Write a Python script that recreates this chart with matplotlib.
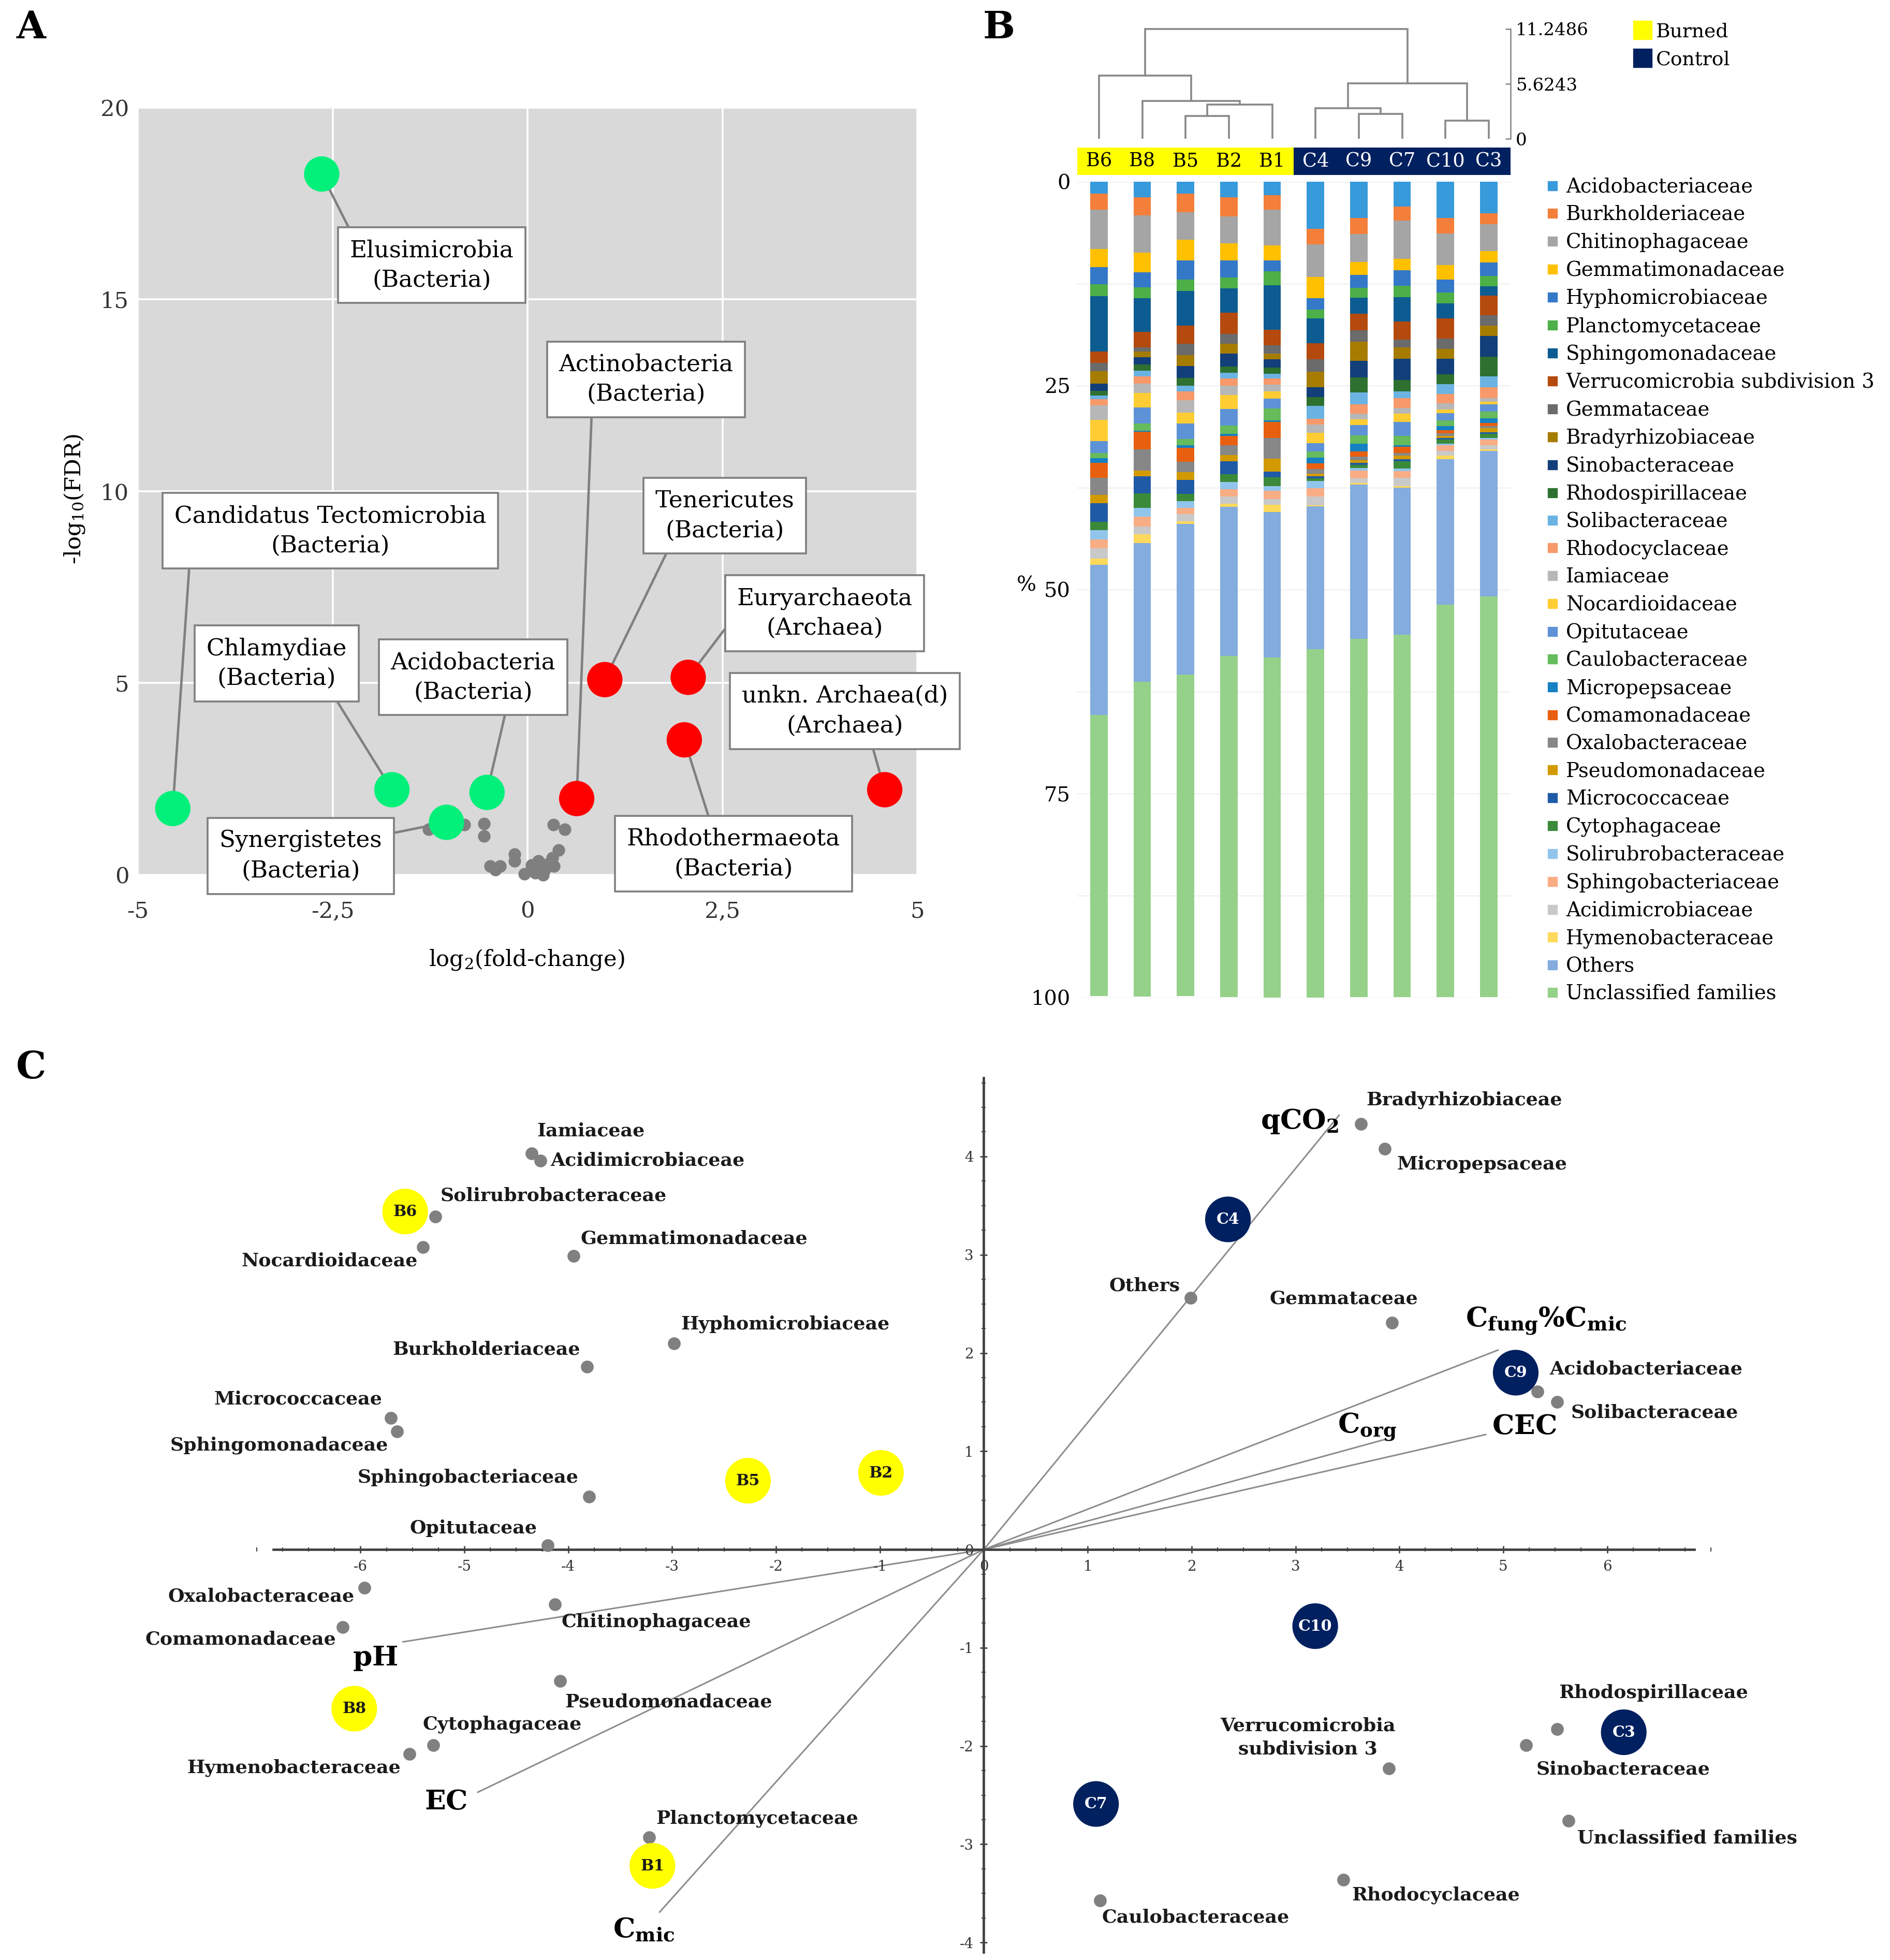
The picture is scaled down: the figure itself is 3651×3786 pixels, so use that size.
import numpy as np
import matplotlib
matplotlib.use('Agg')
import matplotlib.pyplot as plt
from matplotlib.lines import Line2D
from matplotlib.ticker import MultipleLocator, FixedLocator

plt.rcParams['font.family'] = ['DejaVu Serif']
plt.rcParams['mathtext.fontset'] = 'dejavuserif'
plt.rcParams['axes.unicode_minus'] = False

# ---------------- panel A data (volcano) ----------------
phyla = ['Elusimicrobia\n(Bacteria)', 'Actinobacteria\n(Bacteria)',
         'Candidatus Tectomicrobia\n(Bacteria)', 'Tenericutes\n(Bacteria)',
         'Euryarchaeota\n(Archaea)', 'Chlamydiae\n(Bacteria)',
         'Acidobacteria\n(Bacteria)', 'unkn. Archaea(d)\n(Archaea)',
         'Synergistetes\n(Bacteria)', 'Rhodothermaeota\n(Bacteria)']
phyla_lfc = [-2.64, 0.63, -4.55, 0.99, 2.06, -1.74, -0.52, 4.58, -1.04, 2.01]
phyla_fdr = [18.27, 1.99, 1.73, 5.09, 5.15, 2.22, 2.15, 2.22, 1.37, 3.52]
other_lfc = [-1.27, -0.81, -0.56, -0.56, -0.17, -0.17, -0.48, -0.35, -0.41, -0.04, 0.05,
             0.14, 0.22, 0.20, 0.32, 0.40, 0.34, 0.33, 0.48, 0.05, 0.10, 0.27]
other_fdr = [1.19, 1.31, 1.33, 1.01, 0.54, 0.37, 0.23, 0.23, 0.14, 0.03, 0.14,
             0.37, 0.14, 0.00, 0.45, 0.64, 0.23, 1.31, 1.18, 0.25, 0.05, 0.30]

# ---------------- panel B data (relative abundance, %) ----------------
samples = ['B6', 'B8', 'B5', 'B2', 'B1', 'C4', 'C9', 'C7', 'C10', 'C3']
families = ['Acidobacteriaceae', 'Burkholderiaceae', 'Chitinophagaceae', 'Gemmatimonadaceae',
            'Hyphomicrobiaceae', 'Planctomycetaceae', 'Sphingomonadaceae',
            'Verrucomicrobia subdivision 3', 'Gemmataceae', 'Bradyrhizobiaceae',
            'Sinobacteraceae', 'Rhodospirillaceae', 'Solibacteraceae', 'Rhodocyclaceae',
            'Iamiaceae', 'Nocardioidaceae', 'Opitutaceae', 'Caulobacteraceae',
            'Micropepsaceae', 'Comamonadaceae', 'Oxalobacteraceae', 'Pseudomonadaceae',
            'Micrococcaceae', 'Cytophagaceae', 'Solirubrobacteraceae',
            'Sphingobacteriaceae', 'Acidimicrobiaceae', 'Hymenobacteraceae', 'Others',
            'Unclassified families']
fam_colors = ['#379ADB', '#F47F3A', '#A5A5A5', '#FFC000', '#3478C8', '#4CAF48', '#0D5C91',
              '#B54A0E', '#6B6B6B', '#A67C00', '#123F7A', '#2E7030', '#6BB3E3', '#F7996A',
              '#B7B7B7', '#FFCD33', '#5D93D6', '#66BB5C', '#1580C2', '#E8600F', '#878787',
              '#D39A00', '#1F5AA6', '#3A8A3A', '#92C5EB', '#F9AD85', '#C9C9C9', '#FFD95C',
              '#84ACDE', '#96D18A']
ab_B6 = [1.5, 1.95, 4.85, 2.2, 2.1, 1.45, 6.8, 1.4, 1.0, 1.5, 0.9, 0.55, 0.45, 0.8, 1.75,
         2.6, 1.5, 0.6, 0.6, 1.8, 2.1, 1.05, 2.25, 1.05, 1.1, 1.1, 1.25, 0.75, 18.4, 34.5]
ab_B8 = [1.95, 2.2, 4.6, 2.4, 1.8, 1.35, 4.1, 1.9, 0.55, 0.7, 0.85, 0.8, 0.7, 0.9, 1.1,
         1.8, 1.95, 0.9, 0.1, 2.2, 2.6, 0.7, 2.05, 1.8, 1.1, 1.2, 0.9, 1.1, 17.0, 38.6]
ab_B5 = [1.5, 2.25, 3.4, 2.5, 2.35, 1.4, 4.25, 2.25, 1.35, 1.35, 1.5, 0.9, 0.75, 1.05, 1.5,
         1.35, 1.9, 0.8, 0.3, 1.7, 1.25, 1.0, 1.7, 0.9, 0.8, 0.75, 0.9, 0.3, 18.5, 39.4]
ab_B2 = [1.95, 2.35, 3.3, 2.05, 2.1, 1.35, 3.0, 2.6, 1.2, 1.2, 1.55, 0.8, 0.7, 0.9, 1.1,
         1.7, 2.05, 1.05, 0.2, 1.15, 1.2, 0.8, 1.6, 0.9, 0.9, 0.9, 0.9, 0.35, 18.3, 41.8]
ab_B1 = [1.65, 1.8, 4.4, 1.8, 1.35, 1.7, 5.45, 1.95, 1.0, 0.7, 1.0, 0.75, 0.6, 0.75, 0.8,
         0.9, 1.2, 1.5, 0.15, 2.0, 2.55, 1.55, 0.7, 1.05, 0.6, 1.0, 0.7, 0.9, 17.8, 41.8]
ab_C4 = [5.8, 1.9, 4.0, 2.6, 1.4, 1.1, 3.0, 2.0, 1.5, 1.9, 1.2, 1.1, 1.6, 0.7, 1.0,
         1.25, 1.0, 0.8, 0.7, 0.7, 0.55, 0.35, 0.25, 0.3, 0.9, 1.0, 1.05, 0.15, 17.5, 42.8]
ab_C9 = [4.5, 1.95, 3.4, 1.6, 1.6, 1.2, 1.95, 2.05, 1.35, 2.35, 2.05, 1.85, 1.45, 1.15, 0.7,
         0.7, 1.25, 1.0, 1.0, 0.6, 0.45, 0.3, 0.25, 0.4, 0.35, 0.9, 0.6, 0.2, 18.9, 43.9]
ab_C7 = [3.1, 1.7, 4.65, 1.45, 1.85, 1.45, 2.95, 2.2, 1.0, 1.35, 2.6, 1.45, 0.8, 1.2, 0.7,
         1.0, 1.7, 1.2, 0.15, 0.8, 0.3, 0.45, 0.25, 0.9, 0.3, 0.8, 1.05, 0.2, 18.0, 44.4]
ab_C10 = [4.45, 1.9, 3.9, 1.8, 1.55, 1.35, 1.8, 2.5, 1.25, 1.2, 1.95, 1.2, 1.2, 1.1, 0.8,
          0.45, 0.9, 0.7, 0.45, 0.4, 0.3, 0.3, 0.2, 0.45, 0.2, 0.7, 0.6, 0.45, 17.8, 48.1]
ab_C3 = [3.9, 1.35, 3.25, 1.45, 1.6, 1.3, 1.15, 2.4, 1.25, 1.3, 2.55, 2.35, 1.35, 1.35, 0.45,
         0.3, 0.9, 0.8, 0.6, 0.4, 0.25, 0.5, 0.2, 0.5, 0.2, 0.7, 0.5, 0.15, 17.85, 49.1]

# dendrogram merges: (left, right, height); 'mN' refers to merge N
merges = [('B5', 'B2', 2.37), ('m0', 'B1', 3.5), ('B8', 'm1', 3.87), ('B6', 'm2', 6.5),
          ('C9', 'C7', 2.58), ('C4', 'm4', 3.16), ('C10', 'C3', 1.85), ('m5', 'm6', 5.66),
          ('m3', 'm7', 11.2486)]
dendro_ticks = [0, 5.6243, 11.2486]

# ---------------- panel C data (ordination) ----------------
taxa = ['Iamiaceae', 'Acidimicrobiaceae', 'Solirubrobacteraceae', 'Nocardioidaceae',
        'Gemmatimonadaceae', 'Hyphomicrobiaceae', 'Burkholderiaceae', 'Micrococcaceae',
        'Sphingomonadaceae', 'Sphingobacteriaceae', 'Opitutaceae', 'Oxalobacteraceae',
        'Comamonadaceae', 'Chitinophagaceae', 'Pseudomonadaceae', 'Cytophagaceae',
        'Hymenobacteraceae', 'Planctomycetaceae', 'Bradyrhizobiaceae', 'Micropepsaceae',
        'Others', 'Gemmataceae', 'Acidobacteriaceae', 'Solibacteraceae',
        'Verrucomicrobia\nsubdivision 3', 'Rhodospirillaceae', 'Sinobacteraceae',
        'Unclassified families', 'Rhodocyclaceae', 'Caulobacteraceae']
taxa_x = [-4.35, -4.27, -5.28, -5.40, -3.95, -2.98, -3.82, -5.71, -5.65, -3.80, -4.20, -5.96,
          -6.17, -4.13, -4.08, -5.30, -5.53, -3.22, 3.63, 3.86, 1.99, 3.93, 5.33, 5.52,
          3.90, 5.52, 5.22, 5.63, 3.46, 1.12]
taxa_y = [4.03, 3.96, 3.39, 3.08, 2.99, 2.10, 1.86, 1.34, 1.20, 0.54, 0.04, -0.39,
          -0.79, -0.56, -1.34, -1.99, -2.08, -2.93, 4.33, 4.08, 2.56, 2.31, 1.61, 1.50,
          -2.23, -1.83, -1.99, -2.76, -3.36, -3.57]
site_names = ['B6', 'B5', 'B2', 'B8', 'B1', 'C4', 'C9', 'C10', 'C3', 'C7']
site_x = [-5.57, -2.27, -0.99, -6.06, -3.19, 2.35, 5.12, 3.19, 6.16, 1.08]
site_y = [3.44, 0.70, 0.78, -1.62, -3.22, 3.36, 1.80, -0.78, -1.86, -2.59]
env_names = [r'$\mathbf{qCO_2}$', r'$\mathbf{C_{fung}\%C_{mic}}$', r'$\mathbf{C_{org}}$',
             r'$\mathbf{CEC}$', r'$\mathbf{pH}$', r'$\mathbf{EC}$', r'$\mathbf{C_{mic}}$']
env_x = [3.42, 4.95, 3.86, 4.83, -5.59, -4.87, -3.12]
env_y = [4.42, 2.03, 1.12, 1.17, -0.94, -2.47, -3.69]

YELLOW = '#FFFF00'
NAVY = '#002060'

# ---------------- figure ----------------
W, H, DPI = 3651, 3786, 240
fig = plt.figure(figsize=(W / DPI, H / DPI), dpi=DPI)
PX, PY = 1510.0, 1566.0


def rect(x0, y0, x1, y1):
    # reference pixel box -> figure fraction
    return [x0 / PX, 1 - y1 / PY, (x1 - x0) / PX, (y1 - y0) / PY]


# ===================== A =====================
ax = fig.add_axes(rect(110, 86, 733, 699))
ax.set_facecolor('#D9D9D9')
ax.set_xlim(-5, 5)
ax.set_ylim(0, 20)
for s in ax.spines.values():
    s.set_visible(False)
ax.set_xticks([-5, -2.5, 0, 2.5, 5])
ax.set_xticklabels(['-5', '-2,5', '0', '2,5', '5'])
ax.set_yticks([0, 5, 10, 15, 20])
ax.tick_params(length=0, labelsize=13, labelcolor='#333333')
ax.tick_params(axis='x', pad=15)
ax.tick_params(axis='y', pad=5)
ax.grid(True, color='white', lw=1.1)
ax.set_axisbelow(True)
ax.set_xlabel(r'log$_2$(fold-change)', fontsize=13)
ax.set_ylabel(r'-log$_{10}$(FDR)', fontsize=13)
ax.xaxis.set_label_coords(0.499, -0.095)
ax.yaxis.set_label_coords(-0.066, 0.49)

ax.scatter(other_lfc, other_fdr, s=53, color='#7F7F7F', lw=0, zorder=3, clip_on=False)
pcol = ['#00F07A' if v < 0 else '#FF0000' for v in phyla_lfc]
ax.scatter(phyla_lfc, phyla_fdr, s=420, color=pcol, lw=0, zorder=4, clip_on=False)

# label boxes: centre (data) and line attachment relpos
box_pos = [(-1.23, 15.89), (1.52, 12.92), (-2.53, 8.97), (2.53, 9.36), (3.81, 6.82),
           (-3.22, 5.51), (-0.70, 5.15), (4.07, 4.27), (-2.91, 0.49), (2.64, 0.55)]
box_rel = [(0.03, 1), (0.19, 0), (0.05, 0), (0.12, 0), (0, 0.5),
           (0.88, 0), (0.71, 0), (0.62, 0), (1, 0.9), (0.4, 1)]
for name, x, y, (tx, ty), rp in zip(phyla, phyla_lfc, phyla_fdr, box_pos, box_rel):
    ax.annotate(name, xy=(x, y), xytext=(tx, ty), textcoords='data', ha='center',
                va='center', fontsize=13.6, linespacing=1.42, zorder=2,
                bbox=dict(boxstyle='square,pad=0.5', fc='white', ec='#808080', lw=1.1),
                arrowprops=dict(arrowstyle='-', color='#808080', lw=1.4, relpos=rp,
                                shrinkA=0, shrinkB=0))

# ===================== B =====================
abund = np.array([ab_B6, ab_B8, ab_B5, ab_B2, ab_B1, ab_C4, ab_C9, ab_C7, ab_C10, ab_C3])
xb = np.arange(len(samples))

axb = fig.add_axes(rect(860.7, 145, 1206.7, 797))
bottom = np.zeros(len(samples))
for j, fam in enumerate(families):
    axb.bar(xb, abund[:, j], bottom=bottom, width=0.4, color=fam_colors[j], label=fam,
            zorder=2)
    bottom += abund[:, j]
axb.set_xlim(-0.5, len(samples) - 0.5)
axb.set_ylim(100, 0)
for s in axb.spines.values():
    s.set_visible(False)
axb.set_xticks([])
axb.set_yticks([0, 25, 50, 75, 100])
axb.yaxis.set_minor_locator(MultipleLocator(12.5))
axb.grid(True, axis='y', which='both', color='#F2F2F2', lw=0.8)
axb.tick_params(axis='y', which='both', length=0, labelsize=12, pad=4)
fig.text(820 / PX, 1 - 468 / PY, '%', fontsize=12, ha='center', va='center')

fam_handles = [Line2D([], [], marker='s', ls='', color=c, markersize=5) for c in fam_colors]
axb.legend(fam_handles, families, loc='upper left',
           bbox_to_anchor=(1236 / PX, 1 - 142 / PY), bbox_transform=fig.transFigure,
           frameon=False, fontsize=11.6, borderpad=0, borderaxespad=0, handlelength=0.55,
           handletextpad=0.4, labelspacing=0.425)

# sample band
axs = fig.add_axes(rect(860.7, 118, 1206.7, 140))
axs.set_xlim(-0.5, len(samples) - 0.5)
axs.set_ylim(0, 1)
axs.axis('off')
nb = sum(1 for s in samples if s.startswith('B'))
axs.axvspan(-0.5, nb - 0.5, color=YELLOW, lw=0)
axs.axvspan(nb - 0.5, len(samples) - 0.5, color=NAVY, lw=0)
for i, s in enumerate(samples):
    axs.text(i, 0.5, s, ha='center', va='center', fontsize=11,
             color='black' if s.startswith('B') else 'white')

# dendrogram
axd = fig.add_axes(rect(860.7, 20, 1206.7, 111))
axd.set_xlim(-0.5, len(samples) - 0.5)
axd.set_ylim(0, 11.64)
pos = {s: (float(i), 0.0) for i, s in enumerate(samples)}
for k, (a, b, h) in enumerate(merges):
    xa, ha_ = pos[a]
    xb_, hb = pos[b]
    axd.plot([xa, xa, xb_, xb_], [ha_, h, h, hb], color='#8A8A8A', lw=1.1,
             solid_joinstyle='miter')
    pos['m%d' % k] = ((xa + xb_) / 2, h)
for s in ['top', 'left', 'bottom']:
    axd.spines[s].set_visible(False)
axd.spines['right'].set_color('#8A8A8A')
axd.spines['right'].set_bounds(0, dendro_ticks[-1])
axd.set_xticks([])
axd.yaxis.tick_right()
axd.set_yticks(dendro_ticks)
axd.set_yticklabels(['0', '5.6243', '11.2486'])
axd.tick_params(axis='y', direction='in', length=3, color='#8A8A8A', labelsize=10.2, pad=3)
axd.patch.set_visible(False)

grp_handles = [Line2D([], [], marker='s', ls='', color=YELLOW, markersize=10),
               Line2D([], [], marker='s', ls='', color=NAVY, markersize=10)]
fig.legend(grp_handles, ['Burned', 'Control'], loc='upper left',
           bbox_to_anchor=(1306 / PX, 1 - 18 / PY), frameon=False, fontsize=11.3,
           borderpad=0, borderaxespad=0, handlelength=0.8, handletextpad=0.3,
           labelspacing=0.48)

# ===================== C =====================
axc = fig.add_axes(rect(205, 857.3, 1367, 1563.8))
axc.set_xlim(-7, 7)
axc.set_ylim(-4.15, 4.85)
axc.patch.set_visible(False)
for s in ['top', 'right']:
    axc.spines[s].set_visible(False)
axc.spines['left'].set_position(('data', 0))
axc.spines['bottom'].set_position(('data', 0))
axc.spines['left'].set_bounds(-4.1, 4.8)
axc.spines['bottom'].set_bounds(-6.84, 6.84)
for s in ['left', 'bottom']:
    axc.spines[s].set_color('#404040')
    axc.spines[s].set_linewidth(1.4)
axc.xaxis.set_major_locator(FixedLocator(range(-6, 7)))
axc.yaxis.set_major_locator(FixedLocator(range(-4, 5)))
axc.xaxis.set_minor_locator(MultipleLocator(0.25))
axc.yaxis.set_minor_locator(MultipleLocator(0.25))
axc.tick_params(which='major', direction='inout', length=4, width=0.8, color='#404040',
                labelsize=8.3, labelcolor='#333333', pad=4)
axc.tick_params(which='minor', direction='inout', length=2.2, width=0.6, color='#404040')

for ex, ey in zip(env_x, env_y):
    axc.plot([0, ex], [0, ey], color='#8C8C8C', lw=0.9, zorder=1)
env_lab = [(3.04, 4.36), (5.41, 2.33), (3.69, 1.25), (5.20, 1.25), (-5.86, -1.11),
           (-5.18, -2.57), (-3.27, -3.87)]
for name, (lx, ly) in zip(env_names, env_lab):
    axc.text(lx, ly, name, ha='center', va='center', fontsize=16)

axc.scatter(taxa_x, taxa_y, s=55, color='#808080', lw=0, zorder=3)
# label offsets in points (dx, dy, ha)
taxa_off = [(3, 13, 'left'), (6, 0, 'left'), (3, 12, 'left'), (-3, -8, 'right'),
            (4, 10, 'left'), (4, 11, 'left'), (-4, 10, 'right'), (-5, 11, 'right'),
            (-5, -8, 'right'), (-6, 11, 'right'), (-6, 10, 'right'), (-6, -5, 'right'),
            (-4, -7, 'right'), (4, -10, 'left'), (3, -12, 'left'), (-6, 12, 'left'),
            (-5, -8, 'right'), (4, 11, 'left'), (3, 14, 'left'), (7, -9, 'left'),
            (-6, 7, 'right'), (-28, 14, 'center'), (7, 13, 'left'), (8, -6, 'left'),
            (-47, 18, 'center'), (1, 21, 'left'), (6, -14, 'left'), (5, -10, 'left'),
            (5, -9, 'left'), (1, -10, 'left')]
for name, x, y, (dx, dy, ha) in zip(taxa, taxa_x, taxa_y, taxa_off):
    axc.annotate(name, xy=(x, y), xytext=(dx, dy), textcoords='offset points', ha=ha,
                 va='center', fontsize=10.9, fontweight='bold', color='#1a1a1a',
                 linespacing=1.4)

scol = [YELLOW if n.startswith('B') else NAVY for n in site_names]
axc.scatter(site_x, site_y, s=700, color=scol, lw=0, zorder=4)
for n, x, y in zip(site_names, site_x, site_y):
    axc.text(x, y, n, ha='center', va='center', fontsize=9, fontweight='bold',
             color='#1a1a1a' if n.startswith('B') else 'white', zorder=5)

# panel letters
for lab, x, y in [('A', 25, 22), ('B', 798, 22), ('C', 25, 853)]:
    fig.text(x / PX, 1 - y / PY, lab, fontsize=22, fontweight='bold', ha='center',
             va='center')

fig.savefig('out.png', dpi=DPI)
